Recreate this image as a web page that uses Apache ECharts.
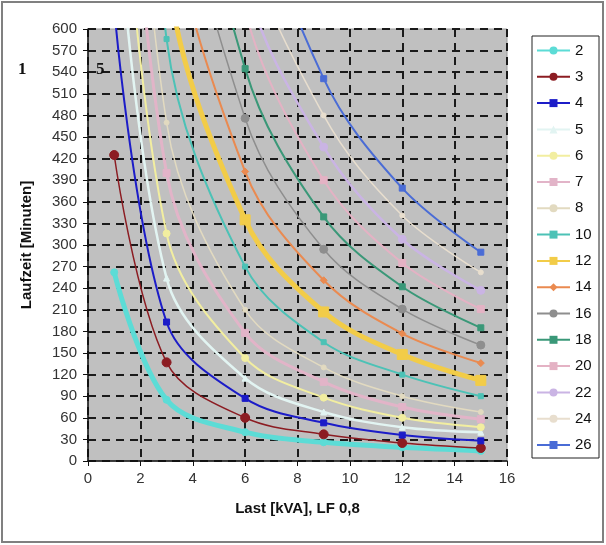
<!DOCTYPE html>
<html>
<head>
<meta charset="utf-8">
<script src="https://cdn.jsdelivr.net/npm/echarts@6/dist/echarts.min.js"></script>
<style>
  html, body { margin: 0; padding: 0; background: #fff; }
  #main { width: 606px; height: 545px; }
</style>
</head>
<body>
<div id="main"></div>
<script>
// Last in kVA (x-Werte der Messpunkte)
var xs = [1, 3, 6, 9, 12, 15];
// Kurvennamen (Legende)
var names = ['2', '3', '4', '5', '6', '7', '8', '10', '12', '14', '16', '18', '20', '22', '24', '26'];
// Laufzeit in Minuten je Kurve (Werte > 600 liegen ausserhalb des Diagramms)
var s2  = [262, 85, 40, 26, 19, 14];
var s3  = [425, 137, 60, 37, 25, 18];
var s4  = [630, 193, 87, 53, 36, 28];
var s5  = [820, 254, 115, 68, 47, 40];
var s6  = [1000, 316, 143, 88, 60, 47];
var s7  = [1200, 400, 178, 110, 75, 58];
var s8  = [1400, 470, 210, 130, 90, 68];
var s10 = [1700, 586, 270, 165, 120, 90];
var s12 = [2100, 690, 335, 207, 148, 112];
var s14 = [2500, 820, 402, 251, 177, 136];
var s16 = [2900, 960, 476, 294, 211, 161];
var s18 = [3300, 1080, 545, 339, 242, 185];
var s20 = [3700, 1230, 625, 390, 275, 211];
var s22 = [4100, 1380, 670, 436, 308, 237];
var s24 = [4500, 1520, 740, 480, 341, 262];
var s26 = [4900, 1650, 850, 531, 379, 290];
// Achsenbeschriftung
var xTicks = [0, 2, 4, 6, 8, 10, 12, 14, 16];
var yTicks = [0, 30, 60, 90, 120, 150, 180, 210, 240, 270, 300, 330, 360, 390, 420, 450, 480, 510, 540, 570, 600];

var allData = [s2, s3, s4, s5, s6, s7, s8, s10, s12, s14, s16, s18, s20, s22, s24, s26];
// Farben, Linienbreiten, Marker
var colors = ['#5cdcd6', '#8c1c22', '#1c1cc8', '#e2f4f2', '#f2eea0', '#e2b4c8', '#e2dac0', '#4cc2b6',
              '#f2cc48', '#ea8a50', '#8e8e8e', '#3a9878', '#e4b2c4', '#cab4e4', '#e8dece', '#4a6cd6'];
var widths = [5, 1.5, 2, 2.5, 2, 3, 1.5, 2, 5, 2, 1.5, 2, 2, 2.5, 1.5, 2];
var symbols = ['circle', 'circle', 'rect', 'triangle', 'circle', 'rect', 'circle', 'rect',
               'rect', 'diamond', 'circle', 'rect', 'rect', 'circle', 'circle', 'rect'];
var sizes = [7, 9, 6, 6, 7, 7, 5, 5, 10, 7, 8, 6, 7, 8, 5, 6];

var series = [];
for (var i = 0; i < names.length; i++) {
    var pts = [];
    for (var j = 0; j < xs.length; j++) {
        pts.push([xs[j], allData[i][j]]);
    }
    series.push({
        name: names[i],
        type: 'line',
        data: pts,
        smooth: 0.35,
        clip: true,
        symbol: symbols[i],
        symbolSize: sizes[i],
        showSymbol: true,
        color: colors[i],
        lineStyle: { width: widths[i], color: colors[i] },
        itemStyle: { color: colors[i], borderColor: colors[i] },
        z: 3 + i
    });
}

var myChart = echarts.init(document.getElementById('main'));
var option = {
    backgroundColor: '#ffffff',
    animation: false,
    textStyle: { fontFamily: 'Liberation Sans, Arial, sans-serif' },
    grid: {
        left: 88,
        right: 99,
        top: 29,
        bottom: 84,
        show: true,
        backgroundColor: '#c0c0c0',
        borderColor: '#9a9a9a',
        borderWidth: 1
    },
    graphic: [
        { type: 'rect', shape: { x: 2, y: 2, width: 601, height: 540 },
          style: { fill: 'none', stroke: '#808080', lineWidth: 2 }, z: 100 },
        { type: 'rect', shape: { x: 532, y: 36, width: 67, height: 422 },
          style: { fill: '#ffffff', stroke: '#222', lineWidth: 1 }, z: 1 },
        { type: 'text', left: 18, top: 61,
          style: { text: '1', font: 'bold 17px "Liberation Serif", serif', fill: '#111' }, z: 100 },
        { type: 'text', left: 96, top: 61,
          style: { text: '5', font: 'bold 17px "Liberation Serif", serif', fill: '#111' }, z: 100 }
    ],
    legend: {
        orient: 'vertical',
        left: 536,
        top: 43,
        itemWidth: 33,
        itemHeight: 10,
        itemGap: 11.3,
        padding: 0,
        data: names,
        textStyle: { fontSize: 15, color: '#111', fontFamily: 'Liberation Sans, Arial, sans-serif' },
        z: 10
    },
    xAxis: {
        type: 'value',
        min: 0,
        max: 16,
        interval: 2,
        name: 'Last [kVA], LF 0,8',
        nameLocation: 'middle',
        nameGap: 40,
        nameTextStyle: { fontSize: 15, fontWeight: 'bold', color: '#111' },
        axisLine: { show: true, lineStyle: { color: '#111', width: 1.5 } },
        axisTick: { show: true, length: 5, lineStyle: { color: '#111' } },
        axisLabel: { fontSize: 15, color: '#333', margin: 10 },
        splitLine: { show: true, lineStyle: { color: '#1a1a1a', width: 2, type: [8, 6] } }
    },
    yAxis: {
        type: 'value',
        min: 0,
        max: 600,
        interval: 30,
        name: 'Laufzeit [Minuten]',
        nameLocation: 'middle',
        nameGap: 54,
        nameTextStyle: { fontSize: 15, fontWeight: 'bold', color: '#111' },
        axisLine: { show: true, lineStyle: { color: '#111', width: 1.5 } },
        axisTick: { show: true, length: 5, lineStyle: { color: '#111' } },
        axisLabel: { fontSize: 15, color: '#333', margin: 11 },
        splitLine: { show: true, lineStyle: { color: '#1a1a1a', width: 2, type: [8, 6] } }
    },
    series: series
};
myChart.setOption(option);
</script>
</body>
</html>
